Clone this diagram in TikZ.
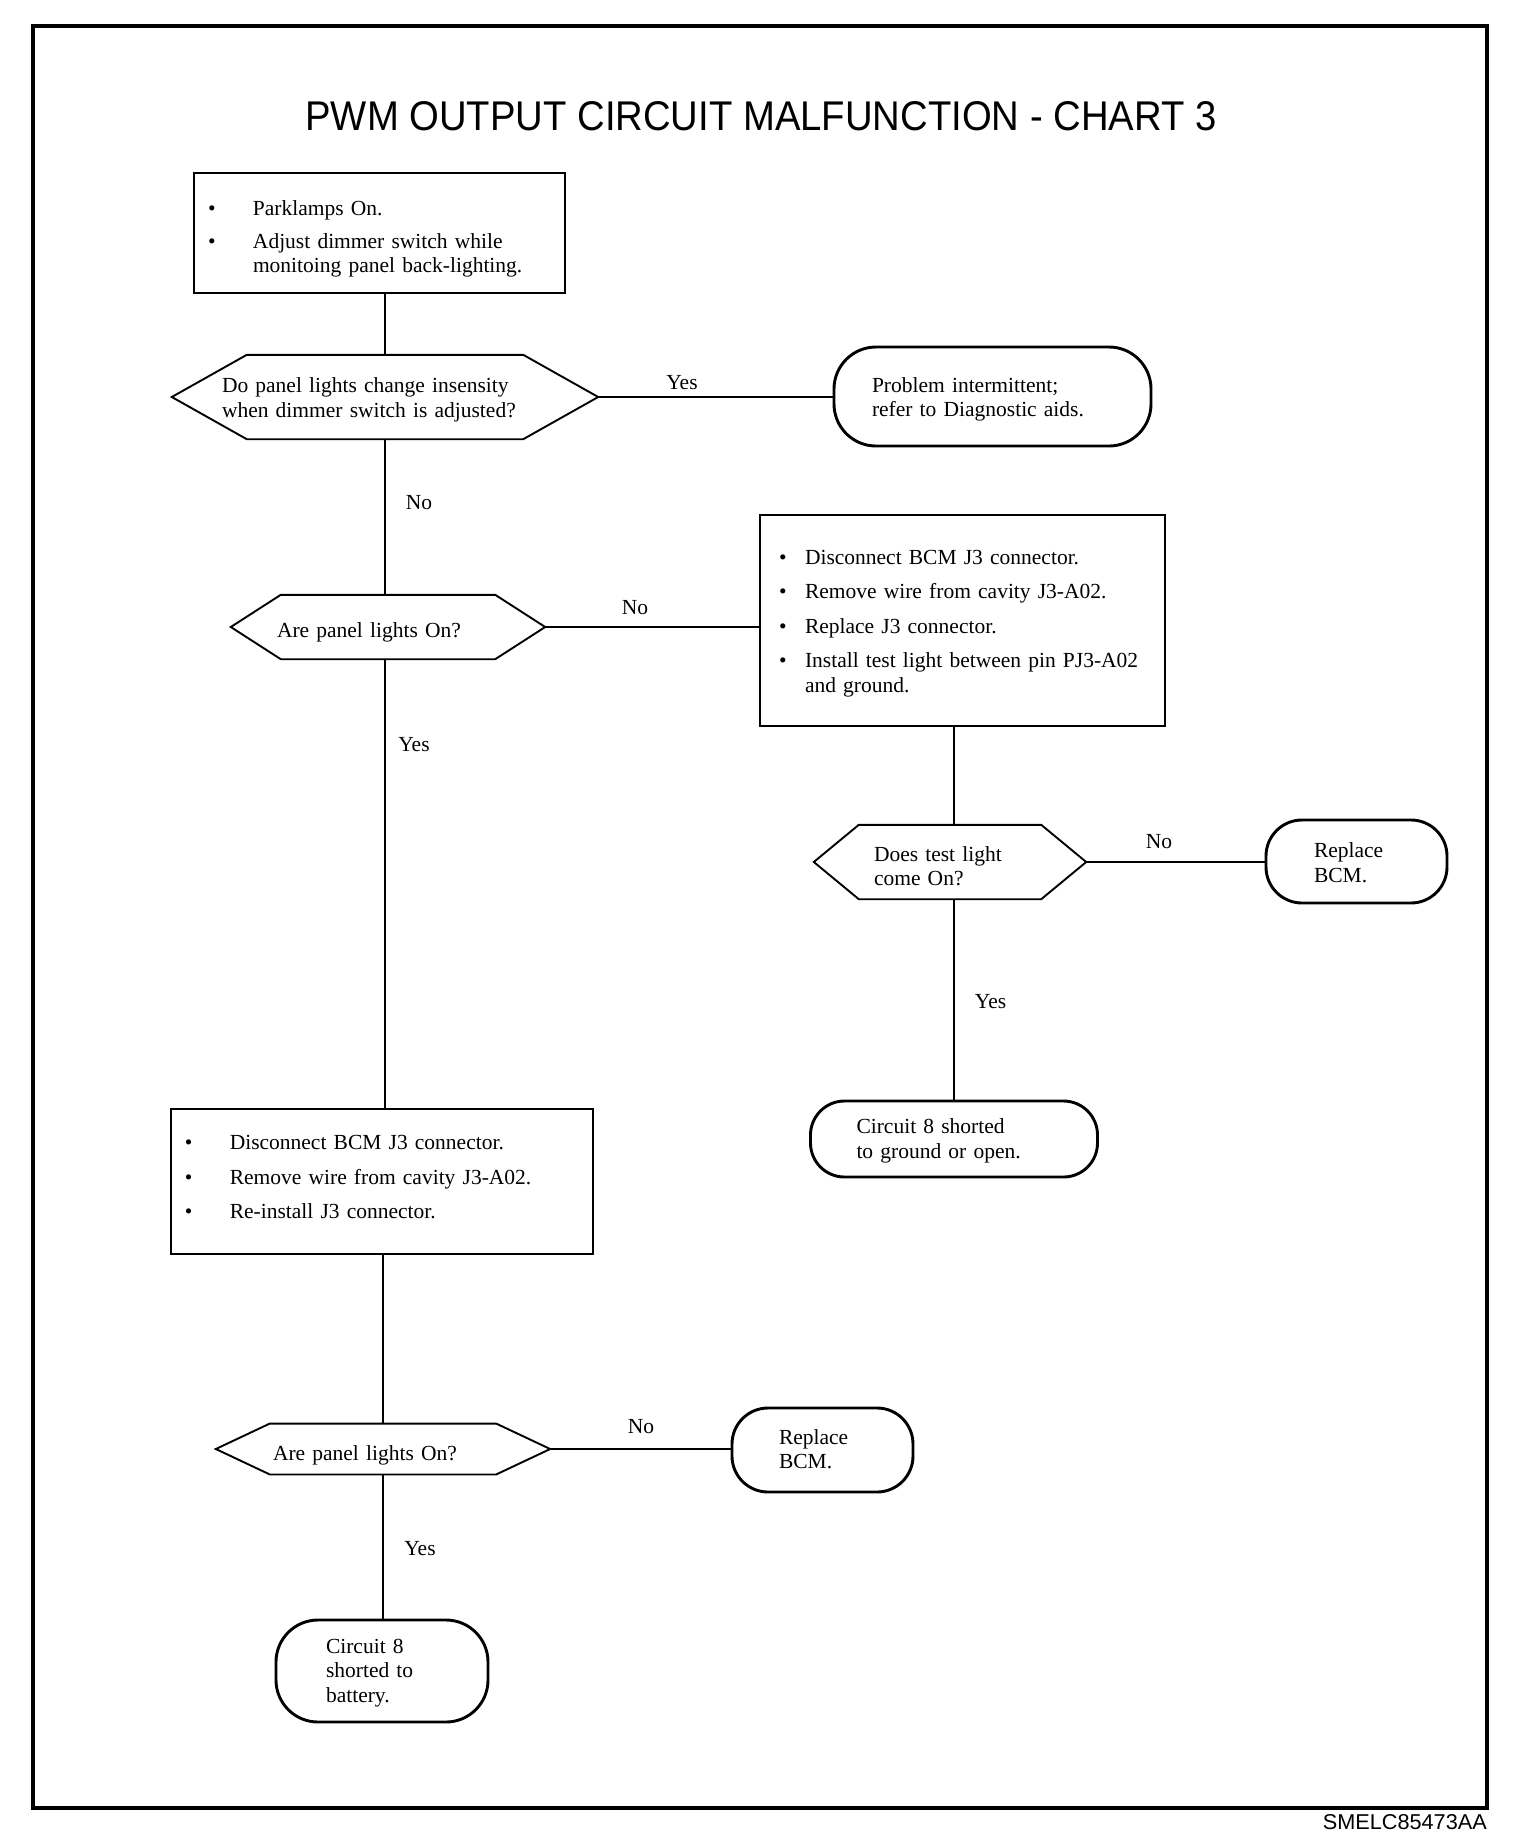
\documentclass[tikz,border=0pt]{standalone}
\usepackage{fontspec}
\setmainfont{Liberation Serif}
\newfontfamily\arialfont{Liberation Sans}
\newcommand\hexagonpath[2]{\draw[hexline] (#1.west) -- ([xshift=#2]#1.north west) -- ([xshift=-#2]#1.north east) -- (#1.east) -- ([xshift=-#2]#1.south east) -- ([xshift=#2]#1.south west) -- cycle;}
\newcommand\bul[1]{\makebox[#1][l]{\textbullet}}
\newcommand\lowered[3]{\raisebox{-#1}[\height][\depth]{\parbox{#2}{#3}}}
\begin{document}
\begin{tikzpicture}[x=1pt,y=-1pt,
  txt/.style={font=\fontsize{21.5}{24.5}\selectfont, align=left},
  rectbox/.style={txt, draw, line width=2.3pt, inner ysep=0pt},
  rbox/.style={txt, draw, line width=2.9pt, inner ysep=0pt},
  hexnode/.style={txt, inner ysep=0pt},
  hexline/.style={line width=1.9pt, line join=miter},
  conn/.style={line width=1.9pt},
  lbl/.style={font=\fontsize{21.5}{24}\selectfont, inner sep=0pt}
]
\useasboundingbox (0,0) rectangle (1520,1844);
\draw[line width=3.6pt] (33,26) rectangle (1487,1808);
\node[inner sep=0pt] (title) at (761,116.5) {\resizebox{911pt}{29pt}{\arialfont PWM OUTPUT CIRCUIT MALFUNCTION - CHART 3}};
\node[inner sep=0pt, anchor=north east] (code) at (1487,1814) {\resizebox{164pt}{15pt}{\arialfont SMELC85473AA}};

% top box
\node[rectbox, minimum width=371pt, minimum height=120pt, inner xsep=14pt, text width=343pt] (start) at (379.5,233)
 {\lowered{6pt}{343pt}{\bul{45pt}Parklamps On.\\[8pt]\bul{45pt}Adjust dimmer switch while\\\hspace*{45pt}monitoing panel back-lighting.}};

% decision 1
\node[hexnode, minimum width=426pt, minimum height=84pt, inner xsep=50pt, text width=326pt] (d1) at (385,397)
 {\lowered{3pt}{326pt}{Do panel lights change insensity\\when dimmer switch is adjusted?}};
\hexagonpath{d1}{75pt}

\node[rbox, rounded corners=42pt, minimum width=317pt, minimum height=99pt, inner xsep=38pt, text width=241pt] (intermit) at (992.5,396.5)
 {\lowered{3pt}{241pt}{Problem intermittent;\\refer to Diagnostic aids.}};

% decision 2
\node[hexnode, minimum width=314pt, minimum height=64pt, inner xsep=46pt, text width=222pt] (d2) at (388,627)
 {\lowered{5pt}{222pt}{Are panel lights On?}};
\hexagonpath{d2}{50pt}

% box 2
\node[rectbox, minimum width=405pt, minimum height=211pt, inner xsep=19pt, text width=367pt] (box2) at (962.5,620.5)
 {\lowered{3pt}{367pt}{\bul{26pt}Disconnect BCM J3 connector.\\[10pt]\bul{26pt}Remove wire from cavity J3-A02.\\[10pt]\bul{26pt}Replace J3 connector.\\[10pt]\bul{26pt}Install test light between pin PJ3-A02\\\hspace*{26pt}and ground.}};

% decision 3
\node[hexnode, minimum width=272pt, minimum height=74pt, inner xsep=60pt, text width=152pt] (d3) at (950,862)
 {\lowered{4pt}{152pt}{Does test light\\come On?}};
\hexagonpath{d3}{45pt}

\node[rbox, rounded corners=36pt, minimum width=181pt, minimum height=83pt, inner xsep=48pt, text width=85pt] (bcm1) at (1356.5,861.5)
 {\lowered{1pt}{85pt}{Replace\\BCM.}};

\node[rbox, rounded corners=34pt, minimum width=287pt, minimum height=76pt, inner xsep=46pt, text width=195pt] (gnd) at (954,1139)
 {\lowered{2pt}{195pt}{Circuit 8 shorted\\to ground or open.}};

% box 3
\node[rectbox, minimum width=422pt, minimum height=145pt, inner xsep=14pt, text width=394pt] (box3) at (381.8,1181.5)
 {\lowered{-4pt}{394pt}{\bul{45pt}Disconnect BCM J3 connector.\\[10pt]\bul{45pt}Remove wire from cavity J3-A02.\\[10pt]\bul{45pt}Re-install J3 connector.}};

% decision 4
\node[hexnode, minimum width=334pt, minimum height=50.5pt, inner xsep=57pt, text width=220pt] (d4) at (383,1449)
 {\lowered{6pt}{220pt}{Are panel lights On?}};
\hexagonpath{d4}{54pt}

\node[rbox, rounded corners=36pt, minimum width=181pt, minimum height=84pt, inner xsep=47pt, text width=87pt] (bcm2) at (822.5,1450)
 {\lowered{-1pt}{87pt}{Replace\\BCM.}};

\node[rbox, rounded corners=42pt, minimum width=212pt, minimum height=102pt, inner xsep=50pt, text width=112pt] (batt) at (382,1671)
 {\lowered{2pt}{112pt}{Circuit 8\\shorted to\\battery.}};

% connectors
\draw[conn] (d1.north |- start.south) -- (d1.north);
\draw[conn] (d1.east) -- (intermit.west |- d1.east);
\draw[conn] (d1.south) -- (d1.south |- d2.north);
\draw[conn] (d2.east) -- (box2.west |- d2.east);
\draw[conn] (gnd.north |- d3.north) -- (gnd.north |- box2.south);
\draw[conn] (d3.east) -- (bcm1.west |- d3.east);
\draw[conn] (gnd.north |- d3.south) -- (gnd.north);
\draw[conn] (d1.south |- d2.south) -- (d1.south |- box3.north);
\draw[conn] (d4.north |- box3.south) -- (d4.north);
\draw[conn] (d4.east) -- (bcm2.west |- d4.east);
\draw[conn] (d4.south) -- (d4.south |- batt.north);

% labels
\node[lbl] (y1) at (682,383) {Yes};
\node[lbl] (n1) at (419,503) {No};
\node[lbl] (n2) at (635,608) {No};
\node[lbl] (y2) at (414,745) {Yes};
\node[lbl] (n3) at (1159,842) {No};
\node[lbl] (y3) at (990.6,1002) {Yes};
\node[lbl] (n4) at (641,1427) {No};
\node[lbl] (y4) at (420,1549) {Yes};
\end{tikzpicture}
\end{document}
